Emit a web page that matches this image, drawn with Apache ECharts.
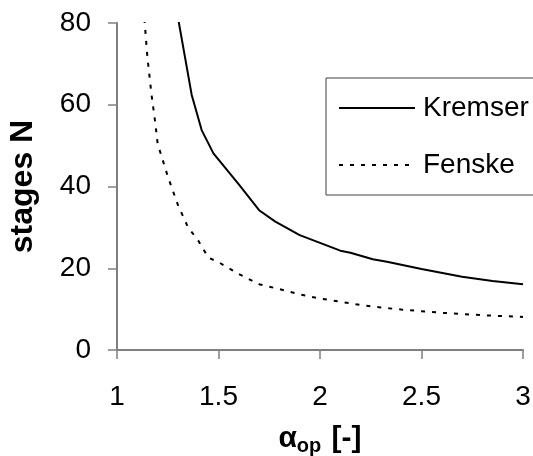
<!DOCTYPE html>
<html>
<head>
<meta charset="utf-8">
<script src="https://cdn.jsdelivr.net/npm/echarts@6/dist/echarts.min.js"></script>
<style>
html,body{margin:0;padding:0;background:#fff;}
#c{width:533px;height:456px;}
</style>
</head>
<body>
<div id="c"></div>
<script>
var kremserAlpha = [1.3, 1.368, 1.417, 1.475, 1.6, 1.7, 1.78, 1.9, 2.0, 2.1, 2.15, 2.26, 2.33, 2.5, 2.7, 2.85, 3.0];
var kremserN     = [81.4, 62.4, 53.8, 48.1, 40.5, 34.2, 31.4, 28.1, 26.2, 24.3, 23.8, 22.2, 21.6, 19.8, 17.9, 16.9, 16.1];
var fenskeAlpha  = [1.135, 1.15, 1.17, 1.19, 1.2, 1.25, 1.3, 1.35, 1.4, 1.45, 1.5, 1.6, 1.7, 1.8, 1.9, 2.0, 2.1, 2.2, 2.3, 2.4, 2.5, 2.6, 2.7, 2.8, 2.9, 3.0];
var fenskeN      = [81, 71.5, 62.5, 55, 50.5, 42.5, 35.5, 30, 26.8, 22.6, 21.5, 18.6, 16.1, 14.9, 13.6, 12.6, 11.8, 11.0, 10.4, 9.9, 9.5, 9.1, 8.8, 8.5, 8.3, 8.1];
var seriesNames  = ['Kremser', 'Fenske'];
var xTicks = [1, 1.5, 2, 2.5, 3];
var yTicks = [0, 20, 40, 60, 80];

function pairs(xs, ys){ return xs.map(function(x,i){ return [x, ys[i]]; }); }

var FONT = 'Liberation Sans';
var chart = echarts.init(document.getElementById('c'), null, {renderer:'canvas'});
chart.setOption({
  animation:false,
  backgroundColor:'#fff',
  grid:{left:117, right:10, top:23, bottom:106, containLabel:false, outerBoundsMode:'none'},
  xAxis:{
    type:'value', min:xTicks[0], max:xTicks[xTicks.length-1], interval:0.5,
    splitLine:{show:false},
    axisLine:{lineStyle:{color:'#808080', width:2}},
    axisTick:{show:true, inside:false, length:9, lineStyle:{color:'#808080', width:1.5}},
    axisLabel:{fontFamily:FONT, fontSize:28, color:'#000', margin:33},
    name:'{a|α}{s|op}{a| [-]}',
    nameLocation:'middle', nameGap:72,
    nameTextStyle:{
      rich:{
        a:{fontFamily:FONT, fontSize:30, fontWeight:'bold', color:'#000', lineHeight:34, verticalAlign:'middle'},
        s:{fontFamily:FONT, fontSize:20, fontWeight:'bold', color:'#000', lineHeight:34, verticalAlign:'bottom', padding:[6,2,0,0]}
      }
    }
  },
  yAxis:{
    type:'value', min:yTicks[0], max:yTicks[yTicks.length-1], interval:20,
    splitLine:{show:false},
    axisLine:{show:true, lineStyle:{color:'#808080', width:2}},
    axisTick:{show:true, inside:false, length:9, lineStyle:{color:'#808080', width:1.5}},
    axisLabel:{fontFamily:FONT, fontSize:28, color:'#000', margin:26},
    name:'stages N',
    nameLocation:'middle', nameGap:78,
    nameTextStyle:{fontFamily:FONT, fontSize:32, fontWeight:'bold', color:'#000'}
  },
  legend:{
    orient:'vertical', left:326, top:78,
    padding:[16,6,16,12],
    borderColor:'#404040', borderWidth:1,
    backgroundColor:'#fff',
    itemWidth:76, itemHeight:28, itemGap:29,
    itemStyle:{opacity:0},
    textStyle:{fontFamily:FONT, fontSize:28, color:'#000', padding:[0,0,0,3]},
    data:seriesNames
  },
  series:[
    {name:seriesNames[0], type:'line', data:pairs(kremserAlpha, kremserN), showSymbol:false, symbol:'none',
     clip:true, lineStyle:{color:'#000', width:2}, itemStyle:{color:'#000'}},
    {name:seriesNames[1], type:'line', data:pairs(fenskeAlpha, fenskeN), showSymbol:false, symbol:'none',
     clip:true, lineStyle:{color:'#000', width:2, type:[4,7]}, itemStyle:{color:'#000'}}
  ]
});
</script>
</body>
</html>
